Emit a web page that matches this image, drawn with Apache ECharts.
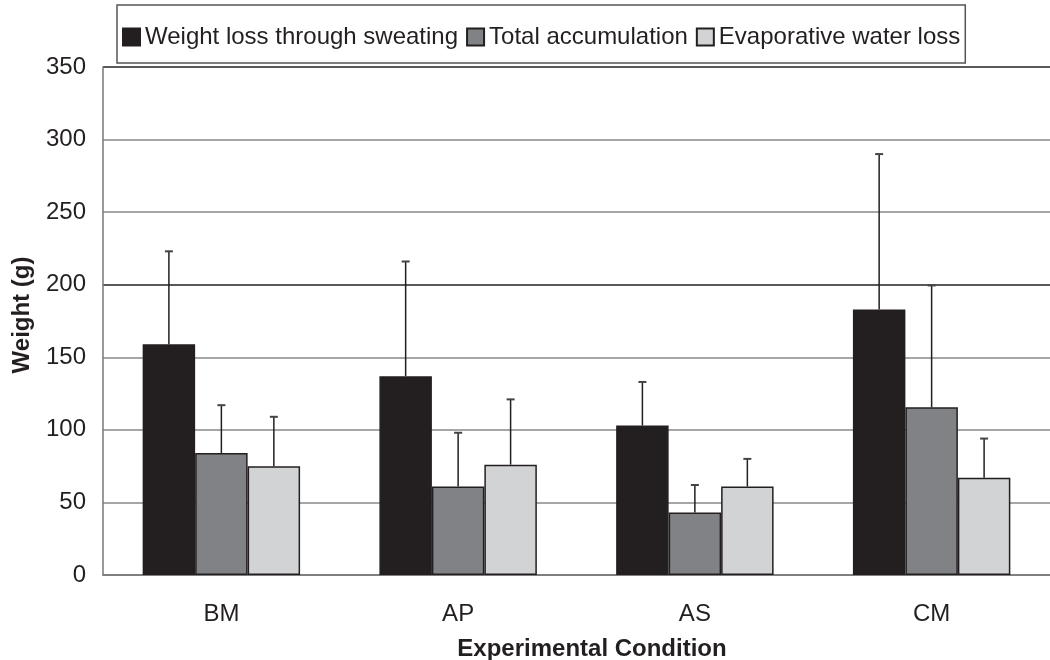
<!DOCTYPE html>
<html>
<head>
<meta charset="utf-8">
<script src="https://cdn.jsdelivr.net/npm/echarts@6/dist/echarts.min.js"></script>
<style>html,body{margin:0;padding:0;background:#fff}#c{width:1050px;height:660px}</style>
</head>
<body>
<div id="c"></div>
<script>
const categories = ['BM', 'AP', 'AS', 'CM'];
const seriesNames = ['Weight loss through sweating', 'Total accumulation', 'Evaporative water loss'];
const sweating = [159, 137, 103, 183];
const sweatingSD = [64, 79, 30, 107];
const accumulation = [84, 61, 43, 115.5];
const accumulationSD = [33, 37, 19, 84];
const evaporative = [75, 76, 61, 67];
const evaporativeSD = [34, 45, 19, 27];
const yTicks = [0, 50, 100, 150, 200, 250, 300, 350];

const FONT = 'Liberation Sans, Arial, Helvetica, sans-serif';
const DARK = '#231f20';
const colors = ['#231f20', '#808285', '#d1d3d4'];
const CAT_GAP = 0.335;

const values = [sweating, accumulation, evaporative];
const sds = [sweatingSD, accumulationSD, evaporativeSD];

const chart = echarts.init(document.getElementById('c'), null, {renderer: 'canvas'});

const barSeries = values.map((v, k) => ({
  name: seriesNames[k],
  type: 'bar',
  data: v,
  barGap: '0%',
  barCategoryGap: (CAT_GAP * 100) + '%',
  itemStyle: {color: colors[k], borderColor: DARK, borderWidth: 1.5},
  emphasis: {disabled: true},
  z: 2
}));

const errSeries = values.map((v, k) => ({
  type: 'custom',
  name: 'err' + k,
  data: categories.map((c, i) => [i, v[i], sds[k][i]]),
  encode: {x: 0, y: 1},
  silent: true,
  z: 5,
  renderItem: function (params, api) {
    const cat = api.value(0), val = api.value(1), sd = api.value(2);
    const band = api.size([1, 0])[0];
    const bw = band * (1 - CAT_GAP) / 3;
    const cx = api.coord([cat, 0])[0] + (k - 1) * bw;
    const yBase = api.coord([cat, val])[1];
    const yTop = api.coord([cat, val + sd])[1];
    return {
      type: 'group',
      children: [
        {type: 'line', shape: {x1: cx, y1: yBase, x2: cx, y2: yTop},
         style: {stroke: DARK, lineWidth: 1.5}},
        {type: 'line', shape: {x1: cx - 4, y1: yTop, x2: cx + 4, y2: yTop},
         style: {stroke: '#444', lineWidth: 2}}
      ]
    };
  }
}));

const option = {
  backgroundColor: '#fff',
  animation: false,
  legend: {
    data: seriesNames,
    left: 117,
    top: 5,
    padding: [20, 5, 14, 5],
    itemGap: 8,
    itemWidth: 17,
    itemHeight: 17,
    icon: 'rect',
    borderColor: '#555',
    borderWidth: 1.5,
    textStyle: {fontFamily: FONT, fontSize: 24, color: DARK},
    selectedMode: false
  },
  grid: {left: 103, right: -7, top: 67, bottom: 85, containLabel: false},
  xAxis: {
    type: 'category',
    data: categories,
    axisLine: {lineStyle: {color: '#777', width: 1.5}},
    axisTick: {show: false},
    axisLabel: {fontFamily: FONT, fontSize: 24, color: DARK, margin: 27}
  },
  yAxis: {
    type: 'value',
    min: yTicks[0],
    max: yTicks[yTicks.length - 1],
    interval: 50,
    axisLine: {show: true, lineStyle: {color: '#777', width: 1.5}},
    axisTick: {show: false},
    axisLabel: {fontFamily: FONT, fontSize: 24, color: DARK, margin: 17},
    splitLine: {lineStyle: {color: ['#777', '#888', '#888', '#888', '#222', '#888', '#888', '#222'], width: 1.5}}
  },
  graphic: [
    {type: 'text', x: 592, y: 649,
     style: {text: 'Experimental Condition', font: 'bold 24px ' + FONT, fill: DARK, textAlign: 'center', textVerticalAlign: 'middle'}},
    {type: 'text', x: 22, y: 315, rotation: Math.PI / 2,
     style: {text: 'Weight (g)', font: 'bold 24px ' + FONT, fill: DARK, textAlign: 'center', textVerticalAlign: 'middle'}}
  ],
  series: barSeries.concat(errSeries)
};
chart.setOption(option);
</script>
</body>
</html>
